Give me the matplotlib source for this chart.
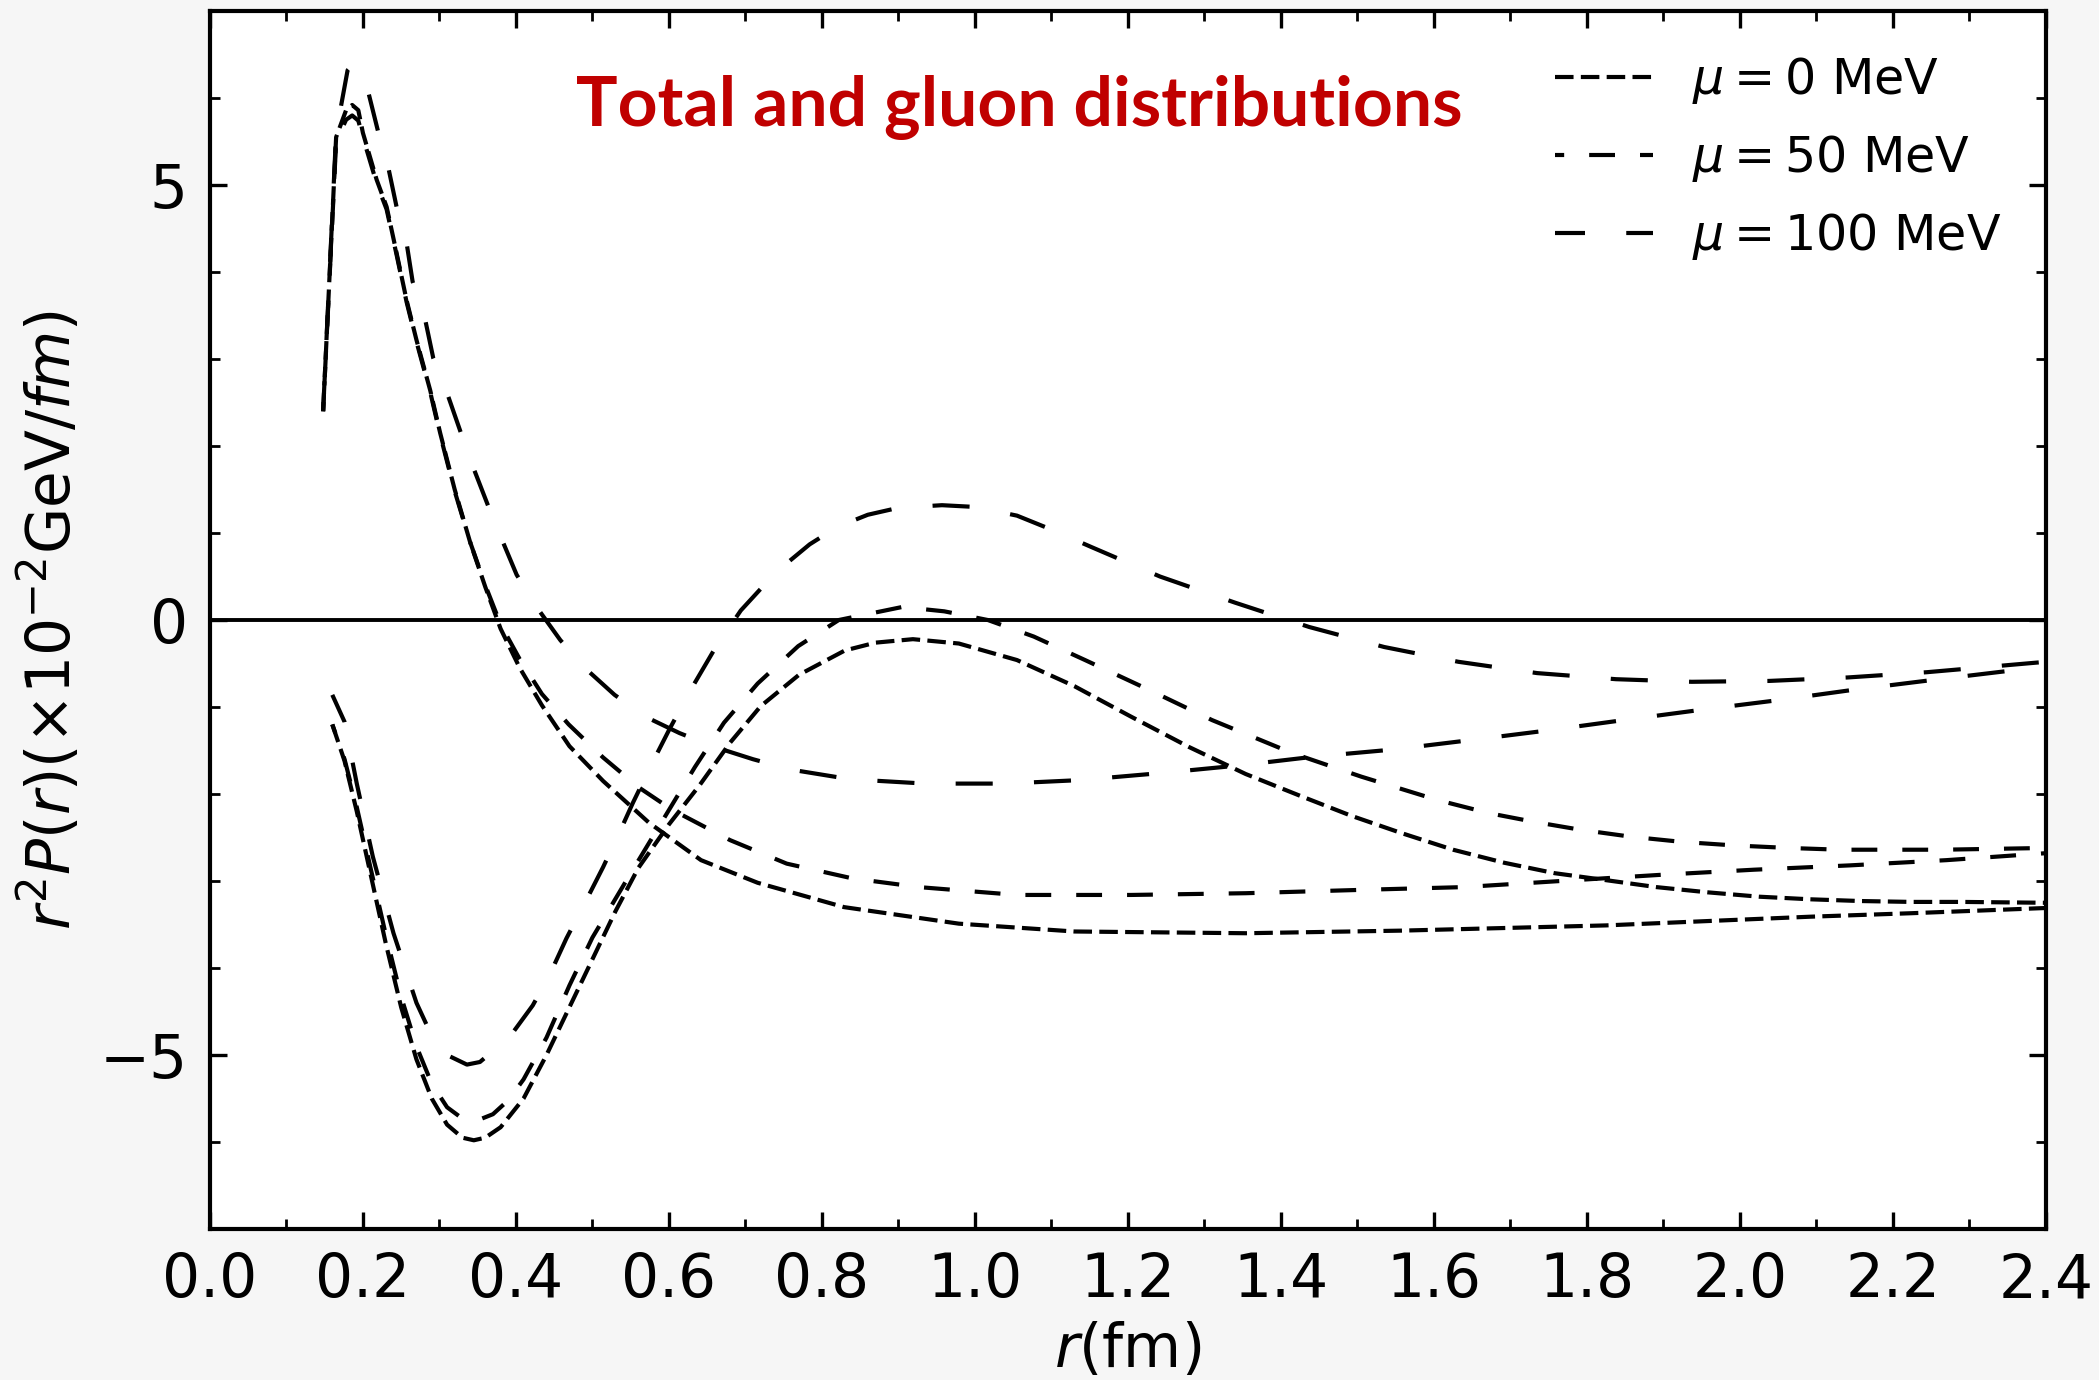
import numpy as np
import matplotlib.pyplot as plt
from matplotlib.ticker import MultipleLocator

# ---- data (r in fm, r^2 P(r) in 1e-2 GeV/fm) ----
# total distributions
r_tot0 = [0.148, 0.165, 0.178, 0.186, 0.194, 0.20, 0.218, 0.231, 0.244, 0.257, 0.27, 0.288, 0.301,
          0.32, 0.34, 0.36, 0.38, 0.405, 0.434, 0.47, 0.514, 0.574, 0.642, 0.716, 0.829, 0.979,
          1.13, 1.354, 1.558, 1.692, 1.825, 1.958, 2.092, 2.224, 2.4]
p_tot0 = [2.4, 5.55, 5.86, 5.92, 5.86, 5.6, 5.06, 4.75, 4.22, 3.68, 3.22, 2.64, 2.15,
          1.5, 0.9, 0.38, -0.1, -0.55, -0.98, -1.45, -1.85, -2.33, -2.76, -3.02, -3.3, -3.49,
          -3.58, -3.6, -3.57, -3.54, -3.51, -3.46, -3.41, -3.37, -3.31]

r_tot50 = [0.148, 0.165, 0.178, 0.186, 0.194, 0.20, 0.218, 0.231, 0.244, 0.257, 0.27, 0.288, 0.301,
           0.32, 0.34, 0.36, 0.38, 0.405, 0.434, 0.469, 0.514, 0.56, 0.604, 0.68, 0.754, 0.84,
           0.927, 1.055, 1.204, 1.354, 1.511, 1.638, 1.765, 1.894, 2.018, 2.144, 2.27, 2.4]
p_tot50 = [2.4, 5.5, 5.75, 5.8, 5.74, 5.55, 5.02, 4.72, 4.2, 3.66, 3.2, 2.62, 2.13,
           1.48, 0.9, 0.4, -0.05, -0.45, -0.85, -1.2, -1.58, -1.92, -2.18, -2.53, -2.8, -2.97,
           -3.07, -3.16, -3.16, -3.14, -3.1, -3.07, -3.0, -2.93, -2.87, -2.82, -2.76, -2.68]

r_tot100 = [0.148, 0.165, 0.18, 0.186, 0.195, 0.207, 0.22, 0.233, 0.244, 0.257, 0.265, 0.281, 0.292,
            0.31, 0.34, 0.37, 0.401, 0.427, 0.458, 0.49, 0.529, 0.569, 0.614, 0.66, 0.71, 0.76,
            0.837, 0.935, 1.04, 1.137, 1.242, 1.347, 1.444, 1.545, 1.648, 1.748, 1.848, 1.951,
            2.051, 2.15, 2.251, 2.365, 2.4]
p_tot100 = [2.4, 5.6, 6.32, 6.38, 6.33, 6.07, 5.61, 5.21, 4.75, 4.34, 3.89, 3.47, 3.01,
            2.61, 1.85, 1.17, 0.52, 0.15, -0.23, -0.55, -0.86, -1.11, -1.3, -1.46, -1.6, -1.72,
            -1.83, -1.88, -1.88, -1.84, -1.76, -1.67, -1.57, -1.49, -1.38, -1.27, -1.15, -1.03,
            -0.92, -0.8, -0.69, -0.57, -0.54]

# gluon distributions
r_glu0 = [0.16, 0.176, 0.192, 0.21, 0.23, 0.25, 0.27, 0.29, 0.31, 0.33, 0.345, 0.36, 0.38,
          0.41, 0.44, 0.47, 0.50, 0.53, 0.56, 0.60, 0.64, 0.68, 0.72, 0.77, 0.83, 0.87, 0.919,
          0.979, 1.055, 1.13, 1.204, 1.28, 1.354, 1.425, 1.492, 1.558, 1.625, 1.692, 1.758,
          1.825, 1.891, 1.958, 2.025, 2.092, 2.158, 2.224, 2.29, 2.4]
p_glu0 = [-1.2, -1.62, -2.2, -2.92, -3.72, -4.45, -5.05, -5.5, -5.8, -5.95, -5.98, -5.95, -5.83,
          -5.5, -5.0, -4.45, -3.9, -3.35, -2.85, -2.35, -1.9, -1.41, -0.99, -0.63, -0.35, -0.26, -0.22,
          -0.27, -0.46, -0.76, -1.11, -1.46, -1.77, -2.02, -2.25, -2.45, -2.64, -2.79, -2.91,
          -2.99, -3.07, -3.13, -3.18, -3.21, -3.23, -3.24, -3.24, -3.25]

r_glu50 = [0.16, 0.176, 0.192, 0.21, 0.23, 0.25, 0.27, 0.29, 0.31, 0.33, 0.35, 0.37, 0.39,
           0.41, 0.44, 0.47, 0.50, 0.544, 0.59, 0.634, 0.672, 0.716, 0.769, 0.822, 0.905, 0.96,
           1.017, 1.077, 1.144, 1.227, 1.31, 1.415, 1.505, 1.605, 1.672, 1.731, 1.791, 1.857,
           1.924, 1.991, 2.064, 2.131, 2.264, 2.4]
p_glu50 = [-1.2, -1.6, -2.15, -2.85, -3.62, -4.33, -4.9, -5.33, -5.6, -5.73, -5.75, -5.68, -5.52,
           -5.28, -4.8, -4.2, -3.65, -3.0, -2.33, -1.69, -1.18, -0.73, -0.3, 0.0, 0.15, 0.1,
           0.0, -0.19, -0.46, -0.8, -1.15, -1.53, -1.8, -2.07, -2.22, -2.32, -2.41, -2.49,
           -2.55, -2.59, -2.62, -2.64, -2.64, -2.62]

r_glu100 = [0.16, 0.176, 0.192, 0.213, 0.24, 0.27, 0.29, 0.31, 0.336, 0.353, 0.392, 0.422, 0.444,
            0.466, 0.492, 0.514, 0.536, 0.553, 0.579, 0.601, 0.63, 0.66, 0.694, 0.74, 0.784,
            0.82, 0.86, 0.90, 0.957, 1.0, 1.055, 1.10, 1.152, 1.242, 1.34, 1.437, 1.535, 1.632,
            1.735, 1.838, 1.937, 2.038, 2.141, 2.244, 2.348, 2.4]
p_glu100 = [-0.86, -1.17, -1.88, -2.72, -3.6, -4.4, -4.78, -5.0, -5.11, -5.08, -4.79, -4.43, -4.08,
            -3.66, -3.22, -2.84, -2.43, -2.1, -1.63, -1.25, -0.78, -0.33, 0.11, 0.55, 0.87,
            1.07, 1.21, 1.29, 1.32, 1.3, 1.2, 1.04, 0.84, 0.5, 0.2, -0.08, -0.31, -0.48,
            -0.61, -0.68, -0.71, -0.7, -0.66, -0.6, -0.52, -0.48]

labels = [r'$\mu = 0$ MeV', r'$\mu = 50$ MeV', r'$\mu = 100$ MeV']

# dash patterns (in units of line width)
ls0 = (0, (4.45, 1.75))
ls50 = (4.0, (6.2, 6.0))
ls100 = (1.7, (8.9, 9.9))

fig = plt.figure(figsize=(10.495, 6.9), dpi=200, facecolor='#f6f6f6')
ax = fig.add_axes([0.100, 0.1094, 0.8747, 0.8826])
ax.set_facecolor('white')

lw = 1.5
ax.axhline(0, color='black', lw=1.4, zorder=1)
ax.plot(r_tot0, p_tot0, color='black', lw=lw, linestyle=ls0, label=labels[0])
ax.plot(r_tot50, p_tot50, color='black', lw=lw, linestyle=ls50, label=labels[1])
ax.plot(r_tot100, p_tot100, color='black', lw=lw, linestyle=ls100, label=labels[2])
ax.plot(r_glu0, p_glu0, color='black', lw=lw, linestyle=ls0)
ax.plot(r_glu50, p_glu50, color='black', lw=lw, linestyle=ls50)
ax.plot(r_glu100, p_glu100, color='black', lw=lw, linestyle=ls100)

ax.set_xlim(0, 2.4)
ax.set_ylim(-7, 7)
ax.xaxis.set_major_locator(MultipleLocator(0.2))
ax.xaxis.set_minor_locator(MultipleLocator(0.1))
ax.yaxis.set_major_locator(MultipleLocator(5))
ax.yaxis.set_minor_locator(MultipleLocator(1))
ax.tick_params(which='both', direction='in', top=True, right=True, labelsize=21.5, pad=8)
ax.tick_params(which='major', length=6, width=1.2)
ax.tick_params(which='minor', length=3.5, width=1.0)
for s in ax.spines.values():
    s.set_linewidth(1.5)

ax.set_xlabel(r'$r$(fm)', fontsize=21.5, labelpad=4)
ax.set_ylabel(r'$r^2P(r)(\times10^{-2}$GeV$/fm)$', fontsize=21.5, labelpad=5.5)

ax.legend(loc='upper right', frameon=False, fontsize=17.7, handlelength=2.0,
          labelspacing=0.55)

ax.text(0.441, 0.921, 'Total and gluon distributions', transform=ax.transAxes,
        ha='center', va='center', color='#c00000', fontsize=25, fontweight='bold',
        family=['Lato', 'DejaVu Sans'])

fig.savefig('out.png', dpi=200, facecolor=fig.get_facecolor())
